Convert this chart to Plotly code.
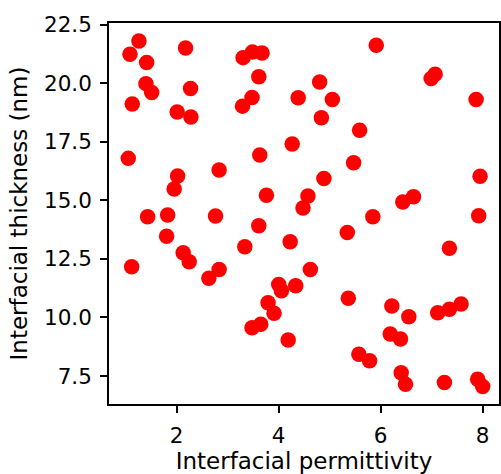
import plotly.graph_objects as go

permittivity = [1.262, 1.086, 1.413, 1.399, 1.511, 1.131, 2.176, 2.274, 2.012, 2.280,
                3.303, 3.487, 3.675, 3.611, 3.479, 3.292, 1.053, 2.020, 1.953, 2.834,
                3.630, 3.761, 4.266, 4.384, 5.914, 6.990, 7.068, 7.871, 4.804, 5.053,
                4.838, 5.587, 5.470, 4.888, 7.949, 4.575, 4.478, 6.434, 6.644, 1.432,
                1.824, 1.804, 2.129, 2.247, 1.119, 2.632, 2.834, 2.763, 3.337, 3.611,
                4.227, 4.002, 4.055, 4.335, 3.793, 3.910, 3.479, 3.650, 4.188, 7.922,
                5.847, 5.346, 7.348, 4.622, 5.366, 6.219, 6.552, 7.119, 7.348, 7.577,
                6.188, 6.389, 5.573, 5.783, 6.403, 6.487, 7.250, 7.902, 8.000]
thickness = [21.80, 21.23, 20.88, 19.98, 19.60, 19.11, 21.50, 19.77, 18.77, 18.56,
             21.09, 21.33, 21.29, 20.27, 19.39, 19.02, 16.79, 16.04, 15.48, 16.29,
             16.93, 15.22, 17.40, 19.38, 21.62, 20.20, 20.38, 19.30, 20.05, 19.30,
             18.52, 17.99, 16.60, 15.93, 16.03, 15.18, 14.67, 14.93, 15.15, 14.30,
             14.37, 13.47, 12.76, 12.38, 12.16, 11.67, 12.05, 14.33, 13.02, 13.91,
             13.23, 11.41, 11.14, 11.35, 10.63, 10.18, 9.56, 9.71, 9.04, 14.34,
             14.30, 13.63, 12.95, 12.05, 10.82, 10.49, 10.03, 10.20, 10.35, 10.57,
             9.29, 9.08, 8.43, 8.15, 7.64, 7.15, 7.22, 7.36, 7.05]

x_ticks = [2, 4, 6, 8]
y_ticks = [7.5, 10.0, 12.5, 15.0, 17.5, 20.0, 22.5]

fig = go.Figure(go.Scatter(
    x=permittivity, y=thickness, mode="markers",
    marker=dict(color="#ff0000", size=15.5, line=dict(width=0)),
))

font = dict(family="DejaVu Sans", color="black")
axis_common = dict(
    showgrid=False, zeroline=False, showline=True, linecolor="black", linewidth=1.6,
    mirror=True, ticks="outside", ticklen=7, tickwidth=1.6, tickcolor="black",
    tickfont=dict(size=21.5, **font),
)
fig.update_xaxes(range=[0.675, 8.32], tickvals=x_ticks, ticktext=[str(v) for v in x_ticks],
                 title=dict(text="Interfacial permittivity", font=dict(size=23, **font), standoff=8),
                 ticklabelstandoff=4, **axis_common)
fig.update_yaxes(range=[6.306, 22.568], tickvals=y_ticks, ticktext=[f"{v:.1f}" for v in y_ticks],
                 title=dict(text="Interfacial thickness (nm)", font=dict(size=23, **font), standoff=10),
                 ticklabelstandoff=4, **axis_common)
fig.update_layout(
    width=501, height=474, margin=dict(l=109, r=2, t=23, b=70, autoexpand=False),
    plot_bgcolor="white", paper_bgcolor="white", showlegend=False,
)
fig.write_html("out.html")
